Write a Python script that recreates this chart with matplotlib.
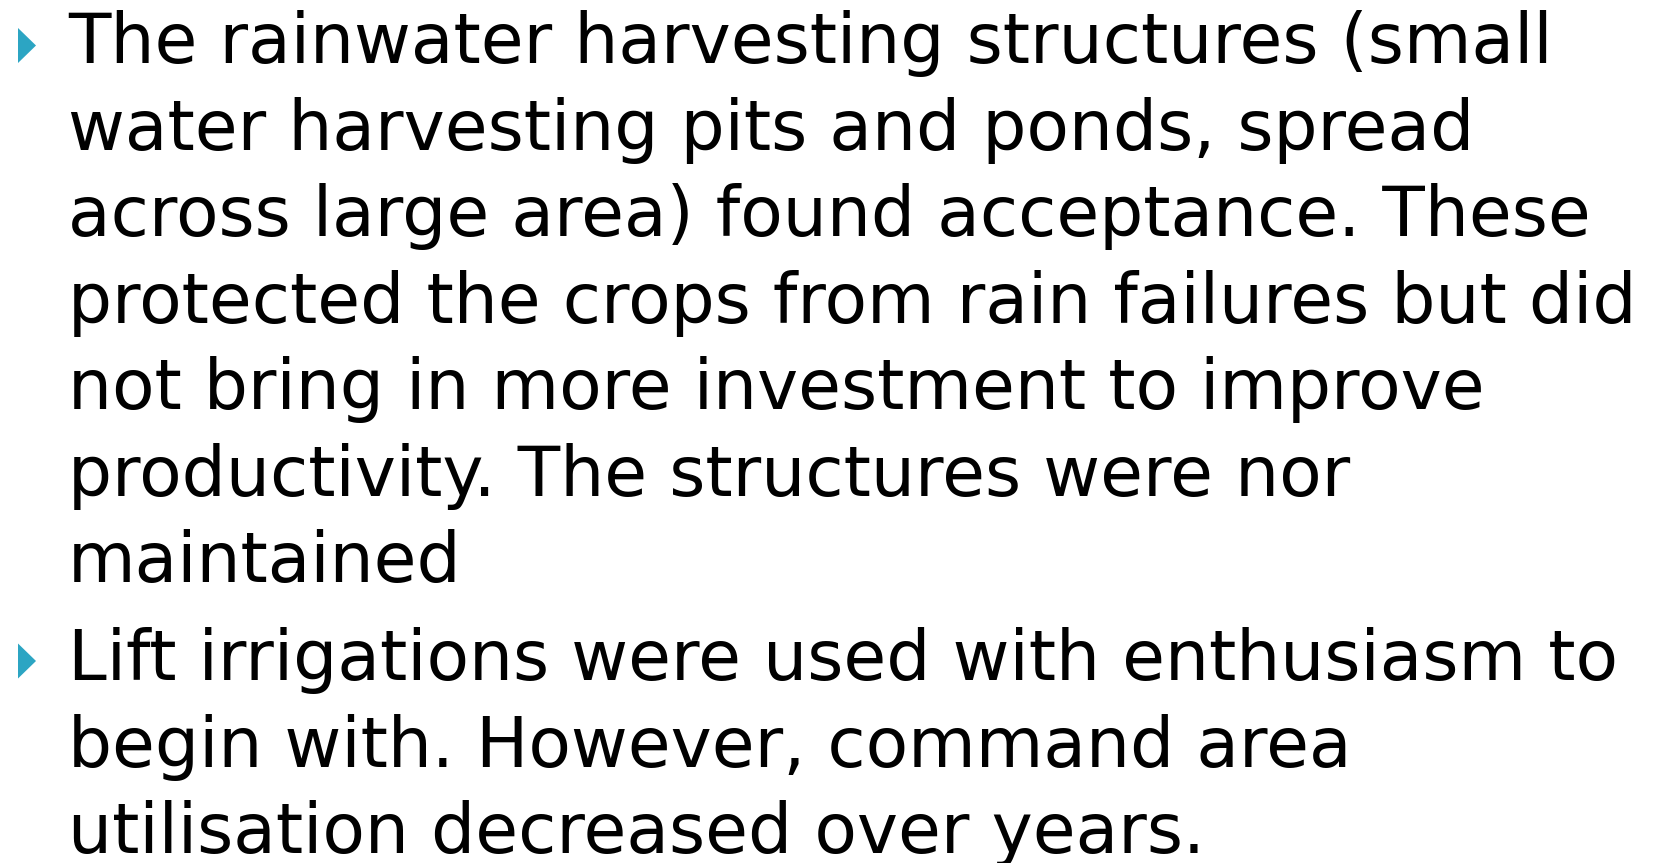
import matplotlib
matplotlib.use("Agg")
import matplotlib.pyplot as plt
from matplotlib.patches import Polygon

# slide text, one entry per rendered line
para1 = [
    "The rainwater harvesting structures (small",
    "water harvesting pits and ponds, spread",
    "across large area) found acceptance. These",
    "protected the crops from rain failures but did",
    "not bring in more investment to improve",
    "productivity. The structures were nor",
    "maintained",
]
para2 = [
    "Lift irrigations were used with enthusiasm to",
    "begin with. However, command area",
    "utilisation decreased over years.",
]

W, H = 1667, 863
fig = plt.figure(figsize=(W / 100, H / 100), dpi=100)
fig.patch.set_facecolor("white")

BULLET = "#2ca5c3"
TEXT_X = 68
PITCH = 86.5
FS = 50


def px(x, y):
    # pixel coords (top-left origin) -> figure fraction
    return x / W, 1 - y / H


def bullet(cy):
    pts = [px(18, cy - 17.5), px(36, cy), px(18, cy + 17.5)]
    fig.patches.append(Polygon(pts, closed=True, transform=fig.transFigure,
                               facecolor=BULLET, edgecolor="none"))


def paragraph(lines, first_baseline):
    for i, line in enumerate(lines):
        x, y = px(TEXT_X, first_baseline + i * PITCH)
        fig.text(x, y, line, fontsize=FS, family="DejaVu Sans",
                 va="baseline", ha="left", color="black")


bullet(45.5)
paragraph(para1, 63)
bullet(661)
paragraph(para2, 680)

fig.savefig("out.png", dpi=100, facecolor="white")
